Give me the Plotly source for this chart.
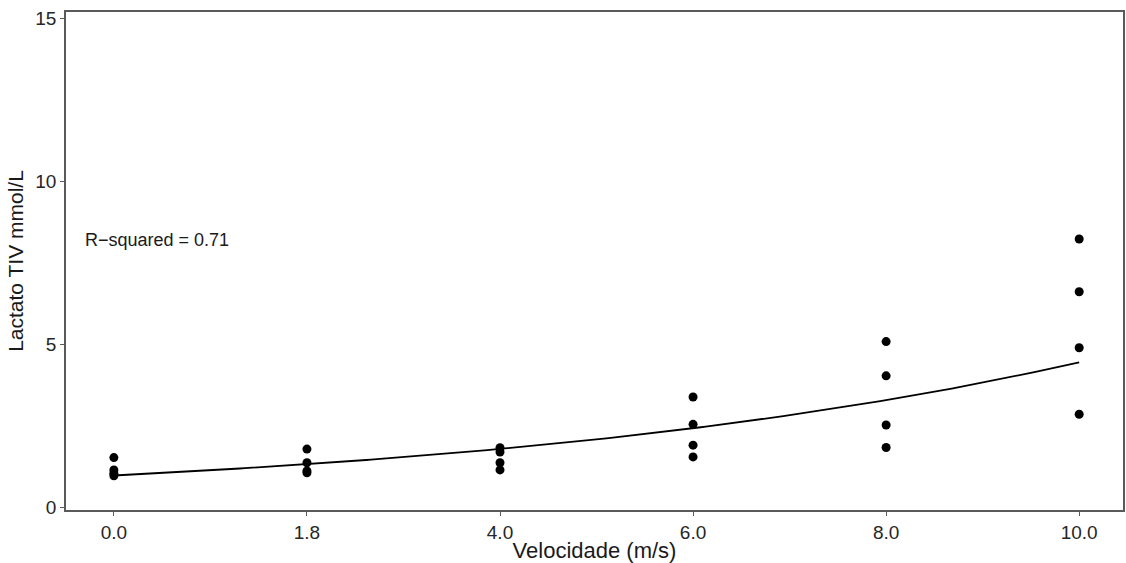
import numpy as np
import plotly.graph_objects as go

# Data
velocity_labels = ["0.0", "1.8", "4.0", "6.0", "8.0", "10.0"]
lactate_00 = [1.53, 1.15, 1.05, 0.97]
lactate_18 = [1.79, 1.37, 1.12, 1.06]
lactate_40 = [1.83, 1.70, 1.37, 1.15]
lactate_60 = [3.39, 2.55, 1.91, 1.55]
lactate_80 = [5.09, 4.04, 2.53, 1.84]
lactate_100 = [8.24, 6.62, 4.90, 2.86]
r_squared_text = "R\u2212squared = 0.71"

groups = [lactate_00, lactate_18, lactate_40, lactate_60, lactate_80, lactate_100]
xs, ys = [], []
for i, g in enumerate(groups):
    xs += [i] * len(g)
    ys += g
xs = np.array(xs, dtype=float)
ys = np.array(ys, dtype=float)

# Exponential fit (log-linear regression) on category position
b, loga = np.polyfit(xs, np.log(ys), 1)
xfit = np.linspace(0, len(groups) - 1, 200)
yfit = np.exp(loga + b * xfit)

FONT = "Liberation Sans, Arial, Helvetica, sans-serif"
AX = "#5a5a5a"

fig = go.Figure()
fig.add_trace(go.Scatter(x=xfit, y=yfit, mode="lines",
                         line=dict(color="black", width=1.8), hoverinfo="skip"))
fig.add_trace(go.Scatter(x=xs, y=ys, mode="markers",
                         marker=dict(color="black", size=9)))

fig.add_annotation(x=-0.16, y=8.21, text=r_squared_text, showarrow=False,
                   xanchor="left", yanchor="middle",
                   font=dict(family=FONT, size=18, color="#1a1a1a"))

fig.update_layout(
    width=1126, height=563,
    margin=dict(l=66, r=1, t=12, b=53),
    paper_bgcolor="white", plot_bgcolor="white",
    showlegend=False,
    font=dict(family=FONT, color="#1a1a1a"),
    xaxis=dict(
        range=[-0.248, 5.227],
        tickmode="array", tickvals=list(range(len(velocity_labels))),
        ticktext=velocity_labels,
        showgrid=False, zeroline=False,
        showline=True, linecolor=AX, linewidth=1.5, mirror=True,
        ticks="outside", ticklen=4, tickcolor=AX, tickwidth=1,
        tickfont=dict(size=19, color="#262626"),
        title=dict(text="Velocidade (m/s)", font=dict(size=22, color="#1a1a1a"), standoff=3),
    ),
    yaxis=dict(
        range=[-0.08, 15.21],
        tickvals=[0, 5, 10, 15],
        showgrid=False, zeroline=False,
        showline=True, linecolor=AX, linewidth=1.5, mirror=True,
        ticks="outside", ticklen=4, tickcolor=AX, tickwidth=1,
        tickfont=dict(size=19, color="#262626"),
        title=dict(text="Lactato TIV mmol/L", font=dict(size=21, color="#1a1a1a"), standoff=6),
    ),
)

fig.write_html("out.html")
